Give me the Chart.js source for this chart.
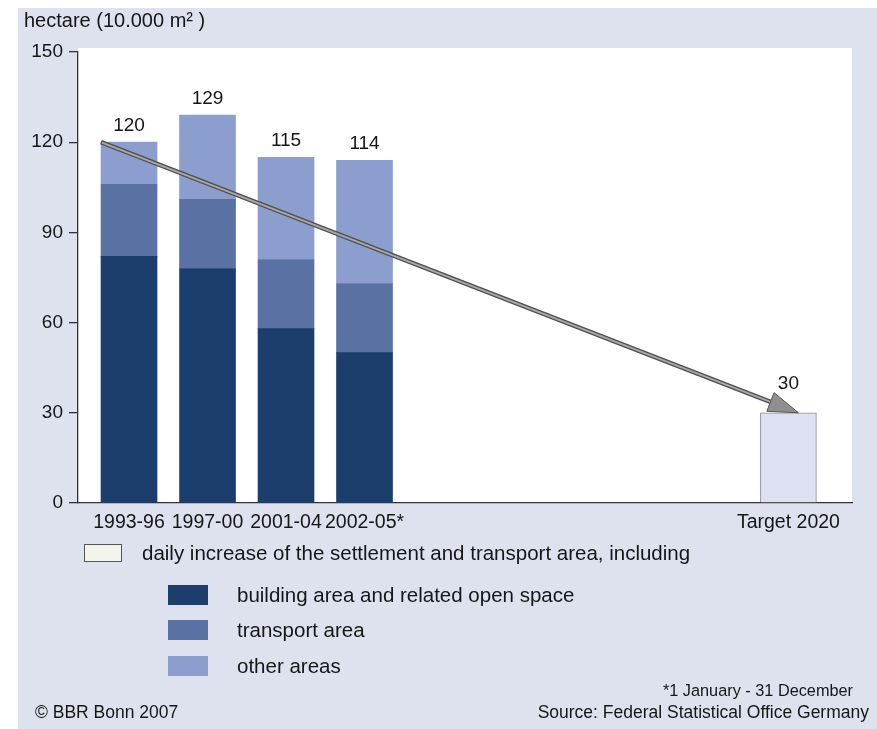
<!DOCTYPE html>
<html>
<head>
<meta charset="utf-8">
<script src="https://cdn.jsdelivr.net/npm/chart.js@4"></script>
<style>
  body { margin:0; background:#ffffff; width:877px; height:729px; overflow:hidden;
         font-family:"Liberation Sans", Arial, Helvetica, sans-serif; color:#161616; }
  #panel { position:absolute; left:18px; top:8px; width:859px; height:721px; background:#dde2ee; }
  #c { position:absolute; left:0; top:0; }
  .t { position:absolute; white-space:nowrap; font-size:20.5px; line-height:20px; }
  .f { font-size:17.5px; line-height:18px; }
  .sw { position:absolute; box-sizing:border-box; }
</style>
</head>
<body>
<div id="panel"></div>
<canvas id="c" width="877" height="729"></canvas>
<div class="t" style="left:24px;top:10px;font-size:20px;">hectare (10.000 m² )</div>
<div id="legend"></div>
<div class="t f" style="right:24px;top:681px;font-size:16.3px;">*1 January - 31 December</div>
<div class="t f" style="right:8px;top:703px;">Source: Federal Statistical Office Germany</div>
<div class="t f" style="left:35px;top:703px;">© BBR Bonn 2007</div>
<script>
// ---- data ----
const categories = ['1993-96', '1997-00', '2001-04', '2002-05*'];
const building   = [82, 78, 58, 50];
const transport  = [24, 23, 23, 23];
const other      = [14, 28, 34, 41];
const totals     = [120, 129, 115, 114];
const targetLabel = 'Target 2020';
const targetValue = 30;
const slots = [1, 2, 3, 4];      // category positions on the x axis
const targetSlot = 9.4;          // position of the target category
const yTicks = [0, 30, 60, 90, 120, 150];
const seriesNames = ['building area and related open space', 'transport area', 'other areas'];
const totalName = 'daily increase of the settlement and transport area, including';

// ---- styles ----
const colors = ['#1b3e6c', '#5a71a4', '#8c9ecd'];
const targetFill = '#dde1f2';
const targetBorder = '#8e8e9c';
const axisColor = '#333333';
const textColor = '#161616';
const BAR_W = 56;
const FONT = '"Liberation Sans", Arial, Helvetica, sans-serif';

const toPts = arr => arr.map((v, i) => ({ x: slots[i], y: v }));
const series = [building, transport, other];

const datasets = series.map((arr, k) => ({
  label: seriesNames[k],
  data: toPts(arr),
  backgroundColor: colors[k],
  borderWidth: 0
}));
datasets.push({
  label: targetLabel,
  data: [{ x: targetSlot, y: targetValue }],
  backgroundColor: targetFill,
  borderColor: targetBorder,
  borderWidth: 1
});

const tickLabel = v => {
  const i = slots.indexOf(v);
  if (i >= 0) return categories[i];
  if (v === targetSlot) return targetLabel;
  return '';
};

const plotBg = {
  id: 'plotBg',
  beforeDraw(chart) {
    const { ctx, chartArea: a } = chart;
    ctx.save();
    ctx.fillStyle = '#ffffff';
    ctx.fillRect(a.left, a.top - 4, a.right - a.left, a.bottom - a.top + 4);
    ctx.restore();
  }
};

const arrowAndLabels = {
  id: 'arrowAndLabels',
  afterDatasetsDraw(chart) {
    const { ctx } = chart;
    const xs = chart.scales.x, ys = chart.scales.y;
    // value labels
    ctx.save();
    ctx.font = '19px ' + FONT;
    ctx.fillStyle = textColor;
    ctx.textAlign = 'center';
    ctx.textBaseline = 'middle';
    totals.forEach((t, i) => {
      ctx.fillText(String(t), xs.getPixelForValue(slots[i]), ys.getPixelForValue(t) - 16);
    });
    ctx.fillText(String(targetValue), xs.getPixelForValue(targetSlot), ys.getPixelForValue(targetValue) - 29);
    // arrow from first total to target
    const x0 = xs.getPixelForValue(slots[0]) - BAR_W / 2;
    const y0 = ys.getPixelForValue(totals[0]);
    const x1 = xs.getPixelForValue(targetSlot) + 10;
    const y1 = ys.getPixelForValue(targetValue);
    const ang = Math.atan2(y1 - y0, x1 - x0);
    const headL = 30, headW = 10;
    const bx = x1 - headL * Math.cos(ang), by = y1 - headL * Math.sin(ang);
    ctx.lineCap = 'butt';
    ctx.strokeStyle = '#505050';
    ctx.lineWidth = 4.5;
    ctx.beginPath(); ctx.moveTo(x0, y0); ctx.lineTo(bx, by); ctx.stroke();
    ctx.strokeStyle = '#a9a9a9';
    ctx.lineWidth = 1.8;
    ctx.beginPath(); ctx.moveTo(x0 + 1, y0 + 0.4); ctx.lineTo(bx, by); ctx.stroke();
    const px = -Math.sin(ang) * headW, py = Math.cos(ang) * headW;
    ctx.beginPath();
    ctx.moveTo(x1, y1);
    ctx.lineTo(bx + px, by + py);
    ctx.lineTo(bx - px, by - py);
    ctx.closePath();
    ctx.fillStyle = '#8f8f8f';
    ctx.fill();
    ctx.strokeStyle = '#555555';
    ctx.lineWidth = 1;
    ctx.stroke();
    ctx.restore();
  }
};

new Chart(document.getElementById('c'), {
  type: 'bar',
  data: { datasets },
  options: {
    responsive: false,
    animation: false,
    devicePixelRatio: 1,
    layout: { padding: { left: 0, right: 25, top: 52, bottom: 196 } },
    datasets: { bar: { barThickness: BAR_W } },
    plugins: { legend: { display: false }, tooltip: { enabled: false }, title: { display: false } },
    scales: {
      x: {
        type: 'linear',
        stacked: true,
        offset: false,
        min: 0.35,
        max: 10.21,
        afterBuildTicks: s => { s.ticks = slots.concat([targetSlot]).map(v => ({ value: v })); },
        afterFit: s => { s.height = 30; },
        grid: { display: false, drawTicks: false, offset: false },
        border: { display: true, color: axisColor, width: 1.3 },
        ticks: {
          autoSkip: false, maxRotation: 0, padding: 8,
          color: textColor, font: { family: FONT, size: 19.5 },
          callback: v => tickLabel(v)
        }
      },
      y: {
        stacked: true,
        min: 0, max: 150,
        afterBuildTicks: s => { s.ticks = yTicks.map(v => ({ value: v })); },
        afterFit: s => { s.width = 78; },
        grid: { drawOnChartArea: false, drawTicks: true, tickLength: 9, color: axisColor, lineWidth: 1.3 },
        border: { display: true, color: axisColor, width: 1.3 },
        ticks: { padding: 6, color: textColor, font: { family: FONT, size: 19 } }
      }
    }
  },
  plugins: [plotBg, arrowAndLabels]
});

// ---- legend (HTML, built from the series names and colours) ----
const lg = document.getElementById('legend');
let html = '<div class="sw" style="left:84px;top:544px;width:38px;height:18px;background:#f3f5ec;border:1px solid #555;"></div>' +
           '<div class="t" style="left:142px;top:543px;">' + totalName + '</div>';
const tops = [585, 620, 656];
seriesNames.forEach((n, k) => {
  html += '<div class="sw" style="left:168px;top:' + tops[k] + 'px;width:40px;height:20px;background:' + colors[k] + ';"></div>' +
          '<div class="t" style="left:237px;top:' + (tops[k] + 0) + 'px;">' + n + '</div>';
});
lg.innerHTML = html;
</script>
</body>
</html>
